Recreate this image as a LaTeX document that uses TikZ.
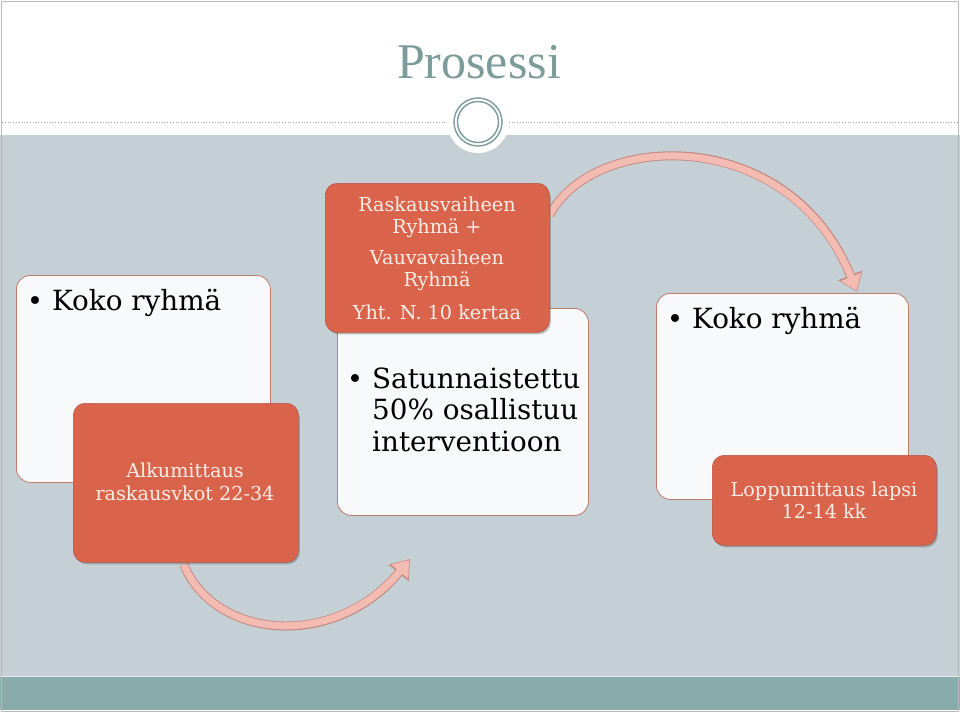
\documentclass[tikz,border=0pt]{standalone}
\usepackage{fontspec}
\setmainfont{DejaVu Serif}
\newfontfamily\titlefont{Liberation Serif}
\usetikzlibrary{arrows.meta,shadows,calc}
\pgfdeclarelayer{bg}
\pgfdeclarelayer{arr}
\pgfsetlayers{bg,arr,main}
\definecolor{bandc}{HTML}{C5D0D6}
\definecolor{footc}{HTML}{8AABAB}
\definecolor{titlec}{HTML}{7B9C9A}
\definecolor{orangec}{HTML}{DA634C}
\definecolor{orangeline}{HTML}{B85440}
\definecolor{boxfill}{HTML}{F8F9FB}
\definecolor{boxline}{HTML}{C27B68}
\definecolor{creamc}{HTML}{FCEDE6}
\definecolor{pinkc}{HTML}{F3BBB2}
\definecolor{pinkline}{HTML}{C48A83}
\begin{document}
\begin{tikzpicture}[x=1pt,y=-1pt,
  wbox/.style={draw=boxline, line width=0.8pt, fill=boxfill, rounded corners=14pt, anchor=north west, inner sep=0pt},
  obox/.style={draw=orangeline, line width=0.6pt, fill=orangec, rounded corners=12pt, anchor=north west, inner sep=0pt,
     drop shadow={shadow xshift=1.5pt, shadow yshift=-2pt, opacity=0.35, fill=black!70}},
  bigtxt/.style={font=\fontsize{27.8}{30}\selectfont, text=black, inner sep=0pt, anchor=base west},
  bul/.style={font=\fontsize{27}{30}\selectfont, text=black, inner sep=0pt, anchor=base west},
  otxt/.style={font=\fontsize{19.2}{22}\selectfont, text=creamc, inner sep=0pt, anchor=base},
  arrout/.style={line width=9pt, draw=pinkline, -{Triangle[width=25pt,length=18pt]}},
  arrin/.style={line width=7pt, draw=pinkc, -{Triangle[width=21pt,length=15pt,sep=1.3pt]}}
]
\useasboundingbox (0,0) rectangle (960,712);
\begin{pgfonlayer}{bg}
\fill[white] (0,0) rectangle (960,712);
\fill[bandc] (0,135) rectangle (960,676);
\fill[footc] (0,676) rectangle (960,710);
\draw[white!80!footc, line width=0.8pt] (0,676) -- (960,676);
\draw[gray!55, line width=0.8pt] (1,1) rectangle (958,711);
\draw[gray!70, dotted, line width=0.8pt] (2,122) -- (957,122);
\fill[white] (478,122) circle (31);
\draw[titlec, line width=1.4pt] (478,122) circle (24);
\draw[titlec, line width=1.4pt] (478,122) circle (20.5);
\end{pgfonlayer}

\node[font=\titlefont\fontsize{50}{52}\selectfont, text=titlec, anchor=base, inner sep=0pt] (title) at (479,78) {Prosessi};

% white boxes
\node[wbox, minimum width=254pt, minimum height=207pt] (w1) at (16,275) {};
\node[wbox, minimum width=251pt, minimum height=207pt] (w2) at (337,308) {};
\node[wbox, minimum width=252pt, minimum height=206pt] (w3) at (656,293) {};

\node[bul] (b1) at (27,310) {\textbullet};
\node[bigtxt] (t1) at (52,310) {Koko ryhmä};
\node[bul] (b3) at (667,328) {\textbullet};
\node[bigtxt] (t3) at (692,328) {Koko ryhmä};
\node[bul] (b2) at (347,388) {\textbullet};
\node[bigtxt] (t2a) at (372,388) {Satunnaistettu};
\node[bigtxt] (t2b) at (372,419) {50\% osallistuu};
\node[bigtxt] (t2c) at (372,451) {interventioon};

% orange boxes
\node[obox, minimum width=225pt, minimum height=159pt] (o1) at (73,403) {};
\node[obox, minimum width=224pt, minimum height=149pt] (o2) at (325,183) {};
\node[obox, minimum width=224pt, minimum height=90pt] (o3) at (712,455) {};

\node[otxt] (o1a) at (185,477) {Alkumittaus};
\node[otxt] (o1b) at (185,500) {raskausvkot 22-34};
\node[otxt] (o2a) at (437,211) {Raskausvaiheen};
\node[otxt] (o2b) at (437,233) {Ryhmä +};
\node[otxt] (o2c) at (437,264) {Vauvavaiheen};
\node[otxt] (o2d) at (437,286) {Ryhmä};
\node[otxt] (o2e) at (437,319) {Yht. N. 10 kertaa};
\node[otxt] (o3a) at (824,496) {Loppumittaus lapsi};
\node[otxt] (o3b) at (824,518) {12-14 kk};

% arrows
\coordinate (a1s) at ($(o1.south)+(-2,2)$);
\coordinate (a1e) at (410,559);
\coordinate (a2s) at ($(o2.north east)+(0,32)$);
\coordinate (a2e) at (857,292);
\begin{pgfonlayer}{arr}
\draw[arrout] (a1s) .. controls (215,640) and (335,650) .. (a1e);
\draw[arrin] (a1s) .. controls (215,640) and (335,650) .. (a1e);
\draw[arrout] (a2s) .. controls (595,130) and (790,125) .. (a2e);
\draw[arrin] (a2s) .. controls (595,130) and (790,125) .. (a2e);
\end{pgfonlayer}
\end{tikzpicture}
\end{document}
